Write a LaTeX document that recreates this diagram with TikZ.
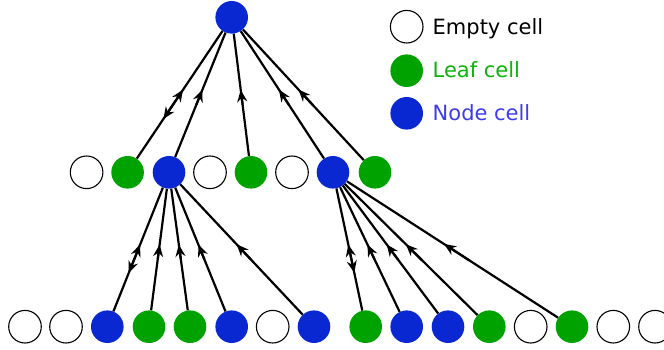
\documentclass[tikz,border=0pt]{standalone}
\usepackage{fontspec}
\setmainfont{DejaVu Sans}
\usetikzlibrary{arrows.meta}
\definecolor{cblue}{RGB}{10,40,210}
\definecolor{cgreen}{RGB}{0,162,0}
\definecolor{tgreen}{RGB}{10,180,10}
\definecolor{tblue}{RGB}{60,60,235}
\tikzset{
  cell/.style={circle,minimum size=32.6pt,inner sep=0pt},
  emptycell/.style={cell,draw=black,line width=1.1pt,fill=white},
  leafcell/.style={cell,fill=cgreen},
  nodecell/.style={cell,fill=cblue},
  edgeline/.style={line width=2.2pt,line cap=butt},
  tipline/.style={line width=2.2pt,-{Stealth[length=12pt,width=10pt,inset=4pt]}},
  legendtext/.style={anchor=base west,inner sep=0pt,font=\fontsize{21}{25}\selectfont}
}
% parent-child edge with an arrow towards the parent
\newcommand{\upedge}[2]{%
  \draw[edgeline] (#1) -- (#2) coordinate[pos=0.46] (#1-#2-u) coordinate[pos=0.58] (#1-#2-v);
  \draw[tipline] (#1-#2-v) -- (#1-#2-u);}
% first child: arrows both ways
\newcommand{\firstedge}[2]{%
  \upedge{#1}{#2}%
  \path (#1) -- (#2) coordinate[pos=0.69] (#1-#2-d) coordinate[pos=0.58] (#1-#2-e);
  \draw[tipline] (#1-#2-e) -- (#1-#2-d);}
\begin{document}
\begin{tikzpicture}[x=1pt,y=-1pt]
\useasboundingbox (0,0) rectangle (664,350);
\clip (0,0) rectangle (664,350);
% root
\node[nodecell] (root) at (231.7,17.3) {};
% middle row
\node[emptycell] (m1) at (86.6,172.3) {};
\node[leafcell]  (m2) at (127.6,172.3) {};
\node[nodecell]  (m3) at (169,172.3) {};
\node[emptycell] (m4) at (210,172.3) {};
\node[leafcell]  (m5) at (251,172.3) {};
\node[emptycell] (m6) at (292,172.3) {};
\node[nodecell]  (m7) at (333,172.3) {};
\node[leafcell]  (m8) at (375,172.3) {};
% bottom row
\node[emptycell] (b1)  at (25,326.7) {};
\node[emptycell] (b2)  at (66,326.7) {};
\node[nodecell]  (b3)  at (107.3,326.7) {};
\node[leafcell]  (b4)  at (149,326.7) {};
\node[leafcell]  (b5)  at (190,326.7) {};
\node[nodecell]  (b6)  at (231.7,326.7) {};
\node[emptycell] (b7)  at (272.7,326.7) {};
\node[nodecell]  (b8)  at (314,326.7) {};
\node[leafcell]  (b9)  at (365.7,326.7) {};
\node[nodecell]  (b10) at (406.7,326.7) {};
\node[nodecell]  (b11) at (448,326.7) {};
\node[leafcell]  (b12) at (489.3,326.7) {};
\node[emptycell] (b13) at (530.7,326.7) {};
\node[leafcell]  (b14) at (572,326.7) {};
\node[emptycell] (b15) at (613.3,326.7) {};
\node[emptycell] (b16) at (655,326.7) {};
% edges from root
\firstedge{root}{m2}
\upedge{root}{m3}
\upedge{root}{m5}
\upedge{root}{m7}
\upedge{root}{m8}
% edges from m3
\firstedge{m3}{b3}
\upedge{m3}{b4}
\upedge{m3}{b5}
\upedge{m3}{b6}
\upedge{m3}{b8}
% edges from m7
\firstedge{m7}{b9}
\upedge{m7}{b10}
\upedge{m7}{b11}
\upedge{m7}{b12}
\upedge{m7}{b14}
% legend
\node[emptycell] (le) at (406.7,26.7) {};
\node[leafcell]  (ll) at (406.7,70.7) {};
\node[nodecell]  (ln) at (406.7,113.3) {};
\node[legendtext,text=black] (te) at (432.5,34.3) {Empty cell};
\node[legendtext,text=tgreen] (tl) at (432.5,77.7) {Leaf cell};
\node[legendtext,text=tblue] (tn) at (432.5,120.3) {Node cell};
\end{tikzpicture}
\end{document}
